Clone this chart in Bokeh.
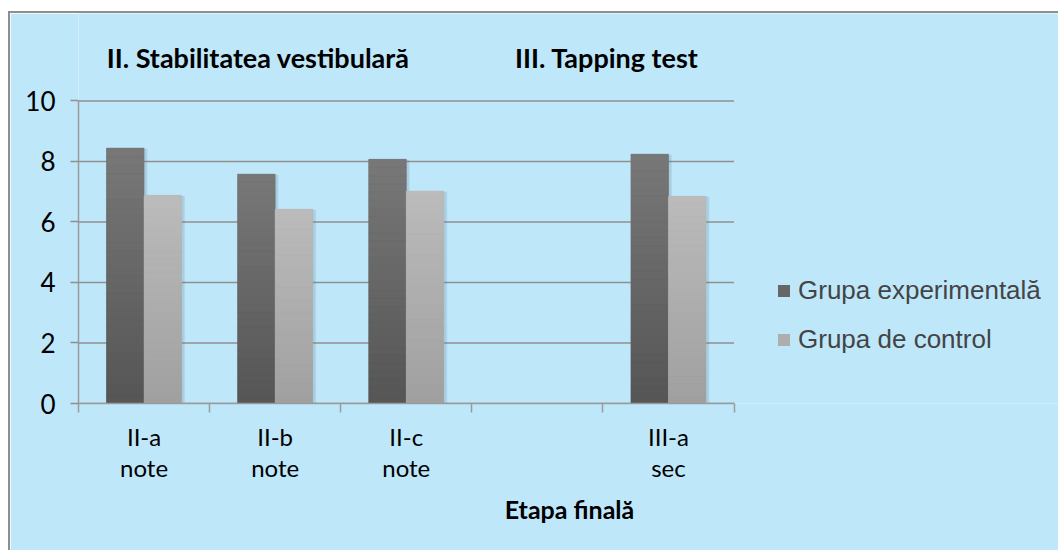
import numpy as np
from bokeh.plotting import figure
from bokeh.models import (Range1d, FixedTicker, Label, Legend, LegendItem,
                          ColumnDataSource)
from bokeh.embed import file_html
from bokeh.resources import INLINE

# ---- data -------------------------------------------------------------
categories = ["II-a\nnote", "II-b\nnote", "II-c\nnote", "", "III-a\nsec"]
experimental = [8.44, 7.58, 8.07, None, 8.24]
control = [6.88, 6.42, 7.02, None, 6.85]
series_names = ["Grupa experimentală", "Grupa de control"]
section_titles = ["II. Stabilitatea vestibulară", "III. Tapping test"]
section_centers = [1.37, 4.03]
x_title = "Etapa finală"
y_ticks = [0, 2, 4, 6, 8, 10]

# ---- style / layout -----------------------------------------------------
BG = "#BFE7FA"
GRID = "#8F8F8F"
AXIS = "#9A9A9A"
TICK_FONT = "Lato"
BAR_W = 0.286
OFF = 0.143
DARK_BOT, DARK_TOP = np.array([0x55, 0x55, 0x55]), np.array([0x78, 0x78, 0x78])
LIGHT_BOT, LIGHT_TOP = np.array([0xA0, 0xA0, 0xA0]), np.array([0xBB, 0xBB, 0xBB])

W, H = 1050, 539
LEFT = 68                 # frame left inside the canvas
BOTTOM = H - 390          # frame bottom inside the canvas
PX_X = 131.1              # pixels per category
PX_Y = 30.26              # pixels per y unit
n_cat = len(categories)
x_end = (W - LEFT) / PX_X
y_end = (H - BOTTOM) / PX_Y

p = figure(width=W, height=H, x_range=Range1d(0, x_end),
           y_range=Range1d(0, y_end), output_backend="svg",
           toolbar_location=None, min_border_left=LEFT, min_border_top=0,
           min_border_right=0, min_border_bottom=BOTTOM,
           background_fill_color=BG, border_fill_color=BG,
           outline_line_color=None,
           styles={"margin-top": "11px", "margin-left": "8px",
                   "border-top": "2px solid #8E8E8E",
                   "border-left": "2px solid #8E8E8E"})

centers = [i + 0.5 for i in range(n_cat)]

# grid lines (only across the category area)
p.xgrid.visible = False
p.ygrid.visible = False
p.segment(x0=0, x1=n_cat, y0=y_ticks, y1=y_ticks, line_color=GRID,
          line_width=1.5)

# y axis
yax = p.yaxis[0]
yax.bounds = (0, 10)
yax.ticker = FixedTicker(ticks=y_ticks)
yax.axis_line_color = AXIS
yax.axis_line_width = 1.5
yax.major_tick_line_color = GRID
yax.major_tick_line_width = 1.5
yax.major_tick_out = 8
yax.major_tick_in = 0
yax.minor_tick_line_color = None
yax.major_label_standoff = 15
yax.major_label_text_font = TICK_FONT
yax.major_label_text_font_size = "26px"
yax.major_label_text_color = "black"

# x axis: labels at centers, tick marks at category boundaries
xax = p.xaxis[0]
xax.bounds = (0, n_cat)
xax.ticker = FixedTicker(ticks=centers, minor_ticks=list(range(n_cat + 1)))
xax.major_label_overrides = {c: lab for c, lab in zip(centers, categories)}
xax.axis_line_color = AXIS
xax.axis_line_width = 1.5
xax.major_tick_line_color = None
xax.major_tick_out = 9
xax.major_tick_in = 0
xax.minor_tick_line_color = AXIS
xax.minor_tick_line_width = 1.5
xax.minor_tick_out = 9
xax.minor_tick_in = 0
xax.major_label_standoff = 9
xax.major_label_text_font = TICK_FONT
xax.major_label_text_font_size = "24px"
xax.major_label_text_line_height = 1.1
xax.major_label_text_color = "black"
xax.axis_label = x_title
xax.axis_label_text_font = TICK_FONT
xax.axis_label_text_font_style = "bold"
xax.axis_label_text_font_size = "25px"
xax.axis_label_text_color = "black"
xax.axis_label_standoff = 9


def hexcol(rgb):
    return "#%02x%02x%02x" % tuple(int(round(v)) for v in rgb)


legend_renderers = []
for vals, off, cb, ct in [(experimental, -OFF, DARK_BOT, DARK_TOP),
                          (control, OFF, LIGHT_BOT, LIGHT_TOP)]:
    xs = [c + off for c, v in zip(centers, vals) if v is not None]
    vs = [v for v in vals if v is not None]
    # soft shadow
    for k, a in [(0.030, 0.10), (0.018, 0.14)]:
        p.vbar(x=[x + 0.012 for x in xs], top=[v - 0.02 for v in vs],
               bottom=-0.06, width=BAR_W + k, fill_color="#5f7f90",
               fill_alpha=a, line_color=None)
    base = p.vbar(x=xs, top=vs, bottom=0, width=BAR_W,
                  fill_color=hexcol((cb + ct) / 2), line_color=None)
    legend_renderers.append(base)
    # vertical gradient bands
    n = 30
    bx, bb, bt, bc = [], [], [], []
    for x, v in zip(xs, vs):
        for k in range(n):
            bx.append(x)
            bb.append(v * k / n)
            bt.append(v * (k + 1) / n)
            bc.append(hexcol(cb + (ct - cb) * (k + 0.5) / n))
    src = ColumnDataSource(dict(x=bx, bottom=bb, top=bt, color=bc))
    p.vbar(x="x", bottom="bottom", top="top", width=BAR_W, fill_color="color",
           line_color="color", line_width=0.5, source=src)

for t, cx in zip(section_titles, section_centers):
    p.add_layout(Label(x=cx, y=11.45, text=t, text_align="center",
                       text_baseline="middle", text_font=TICK_FONT,
                       text_font_style="bold", text_font_size="27px",
                       text_color="black"))

legend = Legend(items=[LegendItem(label=n, renderers=[r])
                       for n, r in zip(series_names, legend_renderers)],
                location=(698, 48), orientation="vertical",
                glyph_width=15, glyph_height=15, label_standoff=7,
                label_text_font="Liberation Sans", label_text_font_size="26px",
                label_height=30, spacing=18, padding=0, margin=0,
                border_line_color=None, background_fill_alpha=0)
p.add_layout(legend)

open("out.html", "w").write(file_html(p, INLINE))
